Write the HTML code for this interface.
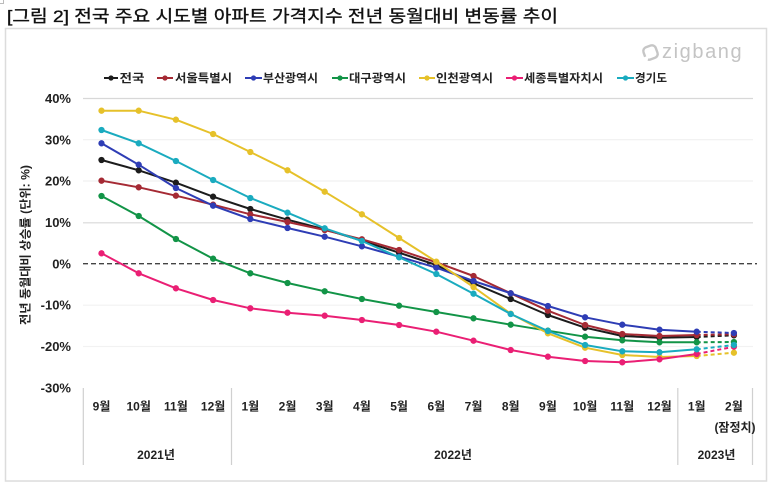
<!DOCTYPE html>
<html><head><meta charset="utf-8"><style>
html,body{margin:0;padding:0;background:#fff;}
svg{display:block;}
text{font-family:"Liberation Sans","Noto Sans CJK KR","NanumGothic",sans-serif;}
</style></head><body>
<svg width="774" height="490" viewBox="0 0 774 490" xmlns="http://www.w3.org/2000/svg">
<defs>
<marker id="mk" viewBox="-5 -5 10 10" markerWidth="7" markerHeight="7" markerUnits="userSpaceOnUse" refX="0" refY="0"><circle r="4.5" fill="#1c1c1c"/></marker>
<marker id="mr" viewBox="-5 -5 10 10" markerWidth="7" markerHeight="7" markerUnits="userSpaceOnUse" refX="0" refY="0"><circle r="4.5" fill="#a52a34"/></marker>
<marker id="mb" viewBox="-5 -5 10 10" markerWidth="7" markerHeight="7" markerUnits="userSpaceOnUse" refX="0" refY="0"><circle r="4.5" fill="#2e3db5"/></marker>
<marker id="mg" viewBox="-5 -5 10 10" markerWidth="7" markerHeight="7" markerUnits="userSpaceOnUse" refX="0" refY="0"><circle r="4.5" fill="#129447"/></marker>
<marker id="my" viewBox="-5 -5 10 10" markerWidth="7" markerHeight="7" markerUnits="userSpaceOnUse" refX="0" refY="0"><circle r="4.5" fill="#e6c12a"/></marker>
<marker id="mp" viewBox="-5 -5 10 10" markerWidth="7" markerHeight="7" markerUnits="userSpaceOnUse" refX="0" refY="0"><circle r="4.5" fill="#ea1f74"/></marker>
<marker id="mc" viewBox="-5 -5 10 10" markerWidth="7" markerHeight="7" markerUnits="userSpaceOnUse" refX="0" refY="0"><circle r="4.5" fill="#1aabbf"/></marker>
</defs>

<!-- corner mark -->
<path d="M0 3.5 H3.5 V0" fill="none" stroke="#bbb" stroke-width="1"/>

<!-- title -->
<text x="7" y="22" font-size="17" fill="#111" stroke="#111" stroke-width="0.35" textLength="551" lengthAdjust="spacingAndGlyphs">[그림 2] 전국 주요 시도별 아파트 가격지수 전년 동월대비 변동률 추이</text>

<!-- frame -->
<rect x="5.5" y="28.5" width="761" height="452.5" fill="none" stroke="#dcdcdc" stroke-width="1.5"/>

<!-- zigbang logo -->
<g transform="translate(650.5,52.5) rotate(-20)">
<rect x="-6.5" y="-6.5" width="13" height="13" rx="4" fill="none" stroke="#c6c6c6" stroke-width="2.4" stroke-dasharray="30 4"/>
</g>
<text x="662" y="58" font-size="20" fill="#c4c4c4" letter-spacing="1.6">zigbang</text>

<!-- legend -->
<g font-size="11.5" font-weight="bold" fill="#222">
<line x1="104" y1="78" x2="118" y2="78" stroke="#1c1c1c" stroke-width="2"/><circle cx="111" cy="78" r="2.6" fill="#1c1c1c"/>
<text x="119.5" y="82" textLength="25" lengthAdjust="spacingAndGlyphs">전국</text>
<line x1="157" y1="78" x2="173" y2="78" stroke="#a52a34" stroke-width="2"/><circle cx="165" cy="78" r="2.6" fill="#a52a34"/>
<text x="175" y="82" textLength="57" lengthAdjust="spacingAndGlyphs">서울특별시</text>
<line x1="245" y1="78" x2="262" y2="78" stroke="#2e3db5" stroke-width="2"/><circle cx="253.5" cy="78" r="2.6" fill="#2e3db5"/>
<text x="263" y="82" textLength="55" lengthAdjust="spacingAndGlyphs">부산광역시</text>
<line x1="332" y1="78" x2="348" y2="78" stroke="#129447" stroke-width="2"/><circle cx="340" cy="78" r="2.6" fill="#129447"/>
<text x="349" y="82" textLength="57" lengthAdjust="spacingAndGlyphs">대구광역시</text>
<line x1="419" y1="78" x2="435" y2="78" stroke="#e6c12a" stroke-width="2"/><circle cx="427" cy="78" r="2.6" fill="#e6c12a"/>
<text x="436" y="82" textLength="57" lengthAdjust="spacingAndGlyphs">인천광역시</text>
<line x1="506" y1="78" x2="523" y2="78" stroke="#ea1f74" stroke-width="2"/><circle cx="514.5" cy="78" r="2.6" fill="#ea1f74"/>
<text x="524" y="82" textLength="79" lengthAdjust="spacingAndGlyphs">세종특별자치시</text>
<line x1="617" y1="78" x2="634" y2="78" stroke="#1aabbf" stroke-width="2"/><circle cx="625.5" cy="78" r="2.6" fill="#1aabbf"/>
<text x="635" y="82" textLength="32" lengthAdjust="spacingAndGlyphs">경기도</text>
</g>

<!-- gridlines -->
<g stroke-width="1.2">
<line x1="83" y1="98.5" x2="753" y2="98.5" stroke="#d8d8d8"/>
<line x1="83" y1="139.7" x2="753" y2="139.7" stroke="#f0f0f0"/>
<line x1="83" y1="181" x2="753" y2="181" stroke="#f0f0f0"/>
<line x1="83" y1="222.8" x2="753" y2="222.8" stroke="#d8d8d8"/>
<line x1="83" y1="305.2" x2="753" y2="305.2" stroke="#f2f2f2"/>
<line x1="83" y1="346.5" x2="753" y2="346.5" stroke="#f2f2f2"/>
</g>
<line x1="83" y1="263.7" x2="757" y2="263.7" stroke="#444" stroke-width="1.3" stroke-dasharray="5 3"/>

<!-- y labels -->
<g font-size="13" font-weight="bold" fill="#222" text-anchor="end">
<text x="71" y="103">40%</text>
<text x="71" y="144.3">30%</text>
<text x="71" y="185.6">20%</text>
<text x="71" y="227">10%</text>
<text x="71" y="268.3">0%</text>
<text x="71" y="309.6">-10%</text>
<text x="71" y="351">-20%</text>
<text x="71" y="392.3">-30%</text>
</g>
<text transform="translate(29.5,245) rotate(-90)" font-size="12" font-weight="bold" fill="#222" text-anchor="middle" textLength="160" lengthAdjust="spacingAndGlyphs">전년 동월대비 상승률 (단위: %)</text>

<!-- x-axis separators -->
<g stroke="#d0d0d0" stroke-width="1.2">
<line x1="83.3" y1="388" x2="83.3" y2="465"/>
<line x1="231.5" y1="388" x2="231.5" y2="465"/>
<line x1="677.8" y1="388" x2="677.8" y2="465"/>
<line x1="752.5" y1="388" x2="752.5" y2="465"/>
</g>

<!-- month labels -->
<g font-size="12" font-weight="bold" fill="#222" text-anchor="middle">
<text x="101.5" y="410.5">9월</text>
<text x="138.7" y="410.5">10월</text>
<text x="175.9" y="410.5">11월</text>
<text x="213.1" y="410.5">12월</text>
<text x="250.3" y="410.5">1월</text>
<text x="287.5" y="410.5">2월</text>
<text x="324.7" y="410.5">3월</text>
<text x="361.9" y="410.5">4월</text>
<text x="399.1" y="410.5">5월</text>
<text x="436.3" y="410.5">6월</text>
<text x="473.5" y="410.5">7월</text>
<text x="510.7" y="410.5">8월</text>
<text x="547.9" y="410.5">9월</text>
<text x="585.1" y="410.5">10월</text>
<text x="622.3" y="410.5">11월</text>
<text x="659.5" y="410.5">12월</text>
<text x="696.7" y="410.5">1월</text>
<text x="733.9" y="410.5">2월</text>
<text x="735" y="431.5">(잠정치)</text>
<text x="156" y="459">2021년</text>
<text x="453" y="459">2022년</text>
<text x="716.5" y="459">2023년</text>
</g>

<!-- series -->
<g fill="none" stroke-width="2" stroke-linejoin="round">
<!-- 전국 -->
<polyline stroke="#1c1c1c" marker-start="url(#mk)" marker-mid="url(#mk)" marker-end="url(#mk)" points="101.5,160 138.7,170.3 175.9,182.7 213.1,196.7 250.3,209 287.5,219.7 324.7,229.3 361.9,240.7 399.1,252.7 436.3,265 473.5,283.3 510.7,299 547.9,315 585.1,327.7 622.3,336 659.5,337.7 696.7,337"/>
<polyline stroke="#1c1c1c" stroke-dasharray="4 3" marker-end="url(#mk)" points="696.7,337 733.9,335.3"/>
<!-- 서울 -->
<polyline stroke="#a52a34" marker-start="url(#mr)" marker-mid="url(#mr)" marker-end="url(#mr)" points="101.5,180.7 138.7,187.3 175.9,195.7 213.1,204.7 250.3,214.3 287.5,222 324.7,230 361.9,239.3 399.1,250 436.3,262.3 473.5,276 510.7,293.3 547.9,310.7 585.1,325 622.3,334 659.5,336 696.7,335"/>
<polyline stroke="#a52a34" stroke-dasharray="4 3" marker-end="url(#mr)" points="696.7,335 733.9,334.3"/>
<!-- 부산 -->
<polyline stroke="#2e3db5" marker-start="url(#mb)" marker-mid="url(#mb)" marker-end="url(#mb)" points="101.5,143.3 138.7,164.7 175.9,188 213.1,205.7 250.3,219 287.5,228 324.7,236.7 361.9,246.3 399.1,256.7 436.3,267.7 473.5,281 510.7,293.3 547.9,306 585.1,317.3 622.3,324.7 659.5,329.7 696.7,331.7"/>
<polyline stroke="#2e3db5" stroke-dasharray="4 3" marker-end="url(#mb)" points="696.7,331.7 733.9,333"/>
<!-- 대구 -->
<polyline stroke="#129447" marker-start="url(#mg)" marker-mid="url(#mg)" marker-end="url(#mg)" points="101.5,196 138.7,216 175.9,239 213.1,258.7 250.3,273.3 287.5,283 324.7,291.3 361.9,299 399.1,305.7 436.3,312 473.5,318.3 510.7,324.7 547.9,330.7 585.1,336.7 622.3,340.3 659.5,342.3 696.7,342.3"/>
<polyline stroke="#129447" stroke-dasharray="4 3" marker-end="url(#mg)" points="696.7,342.3 733.9,342"/>
<!-- 인천 -->
<polyline stroke="#e6c12a" marker-start="url(#my)" marker-mid="url(#my)" marker-end="url(#my)" points="101.5,110.7 138.7,110.7 175.9,119.7 213.1,134 250.3,152 287.5,170.3 324.7,191.7 361.9,214.3 399.1,238 436.3,261.7 473.5,287 510.7,313.7 547.9,333.3 585.1,347.7 622.3,355 659.5,357 696.7,356"/>
<polyline stroke="#e6c12a" stroke-dasharray="4 3" marker-end="url(#my)" points="696.7,356 733.9,352.7"/>
<!-- 세종 -->
<polyline stroke="#ea1f74" marker-start="url(#mp)" marker-mid="url(#mp)" marker-end="url(#mp)" points="101.5,253.3 138.7,273.3 175.9,288.3 213.1,300 250.3,308.3 287.5,312.7 324.7,315.7 361.9,320 399.1,325 436.3,331.7 473.5,340.7 510.7,350 547.9,356.7 585.1,361 622.3,362.3 659.5,359.3 696.7,354"/>
<polyline stroke="#ea1f74" stroke-dasharray="4 3" marker-end="url(#mp)" points="696.7,354 733.9,346.7"/>
<!-- 경기 -->
<polyline stroke="#1aabbf" marker-start="url(#mc)" marker-mid="url(#mc)" marker-end="url(#mc)" points="101.5,130 138.7,143.3 175.9,161 213.1,180 250.3,198 287.5,212.7 324.7,228.3 361.9,241 399.1,257.3 436.3,274 473.5,293.7 510.7,314 547.9,331 585.1,345 622.3,351.3 659.5,352.3 696.7,349.3"/>
<polyline stroke="#1aabbf" stroke-dasharray="4 3" marker-end="url(#mc)" points="696.7,349.3 733.9,345"/>
</g>
</svg>
</body></html>
